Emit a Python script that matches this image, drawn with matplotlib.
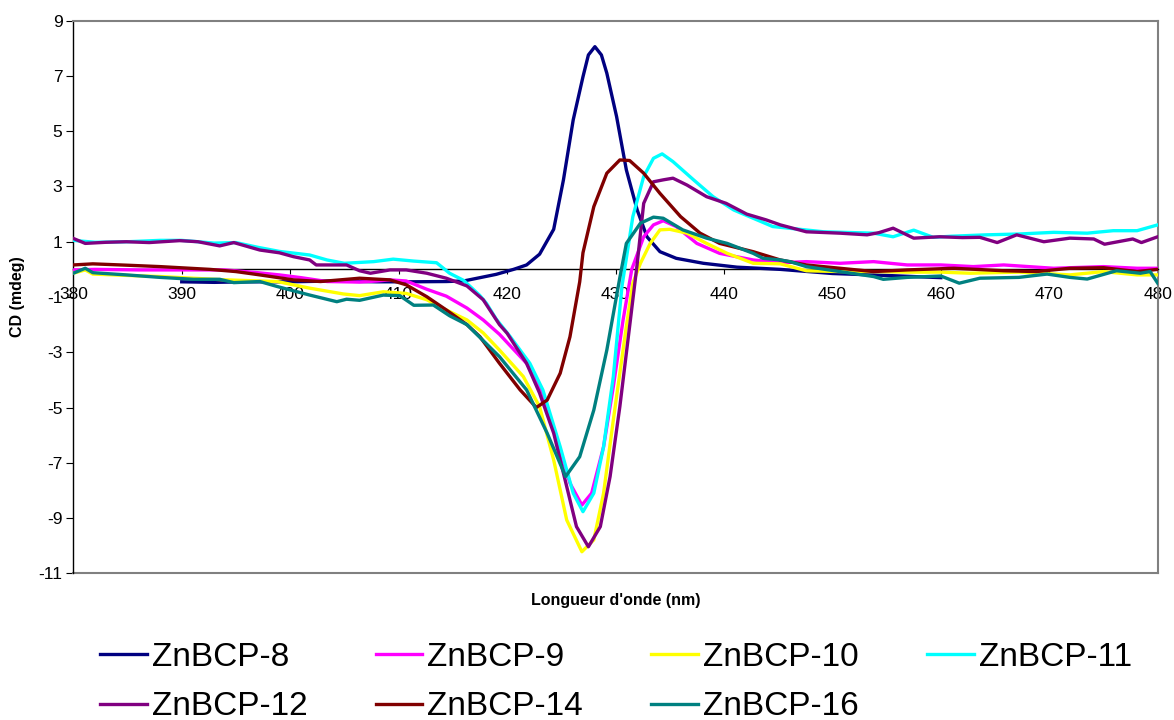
import matplotlib
matplotlib.use("Agg")
import matplotlib.pyplot as plt

# CD spectra (wavelength in nm, CD in mdeg)
x_8 = [390, 393, 396, 400, 404, 408, 411, 414.4, 416, 417.5, 419, 420.6, 421.8, 423.0, 424.3, 425.2,
       426.1, 427.0, 427.5, 428.1, 428.7, 429.2, 430.1, 431.0, 432.0, 432.9, 434.1, 435.6, 438.1,
       441.2, 445.2, 450, 455, 460]
y_8 = [-0.45, -0.47, -0.45, -0.45, -0.42, -0.45, -0.45, -0.44, -0.42, -0.3, -0.18, 0.0, 0.16, 0.55,
       1.45, 3.24, 5.41, 6.97, 7.76, 8.06, 7.76, 7.1, 5.53, 3.6, 2.15, 1.18, 0.64, 0.4, 0.22, 0.08,
       0.0, -0.15, -0.22, -0.3]

x_9 = [380, 382, 386, 390, 394, 397, 399, 401, 403.4, 406.4, 408, 409.2, 410.7, 412.6, 414.4, 416.3,
       417.8, 419.3, 421.8, 423.3, 424.6, 425.8, 426.9, 427.8, 428.9, 429.8, 430.7, 431.5, 432.6,
       433.5, 434.4, 435.6, 437.5, 439.6, 442.7, 445.2, 447.6, 450.7, 453.8, 456.9, 460, 463, 465.8,
       470.4, 475, 478.1, 480]
y_9 = [-0.02, 0.0, -0.02, -0.02, -0.02, -0.12, -0.2, -0.3, -0.44, -0.46, -0.42, -0.38, -0.42, -0.72,
       -0.97, -1.4, -1.83, -2.35, -3.4, -4.48, -6.17, -7.74, -8.53, -8.1, -6.42, -4.24, -1.83, 0.0,
       1.18, 1.61, 1.76, 1.55, 0.94, 0.58, 0.34, 0.24, 0.28, 0.22, 0.28, 0.16, 0.16, 0.1, 0.16, 0.04,
       0.1, 0.04, 0.04]

x_10 = [380, 381.1, 381.8, 385, 388, 391, 394.1, 398.8, 401.8, 404.9, 406.4, 408.6, 410.7, 412.6,
        414.4, 416.3, 417.8, 419.3, 421.5, 423, 424.3, 425.5, 426.9, 428, 428.9, 429.8, 431, 431.6,
        432.3, 433.2, 434.1, 435, 436.6, 438.4, 440.3, 442.7, 445.2, 447.6, 450.7, 453.8, 456.9, 460,
        462.7, 467.2, 471.9, 475, 478.1, 480]
y_10 = [-0.14, -0.02, -0.17, -0.22, -0.26, -0.32, -0.38, -0.44, -0.68, -0.89, -0.95, -0.81, -0.87,
        -1.1, -1.47, -1.83, -2.3, -2.92, -3.88, -4.97, -6.9, -9.07, -10.22, -9.79, -8.1, -5.45, -2.07,
        -0.5, 0.22, 0.94, 1.43, 1.45, 1.31, 0.94, 0.58, 0.22, 0.2, -0.05, -0.08, -0.08, -0.1, -0.1,
        -0.14, -0.1, -0.2, -0.08, -0.2, -0.2]

x_11 = [380, 382, 385, 388, 390, 393, 395, 397, 399, 401.8, 403.4, 405, 407.7, 409.5, 411.4, 413.5,
        414.7, 416, 417.5, 418.1, 419, 420.3, 422.1, 423.3, 424.9, 426.1, 427.0, 428, 428.9, 429.8,
        430.6, 431.0, 431.6, 432.6, 433.5, 434.3, 435.3, 437.2, 439, 440.9, 442.7, 444.5, 449.2,
        453.8, 455.6, 457.5, 459.3, 461, 464.2, 467.2, 470.4, 473.5, 475.9, 478.1, 480]
y_11 = [1.05, 0.98, 1.0, 1.05, 1.05, 0.95, 0.97, 0.8, 0.65, 0.52, 0.34, 0.22, 0.28, 0.37, 0.3, 0.24,
        -0.14, -0.4, -0.95, -1.23, -1.8, -2.44, -3.4, -4.36, -6.42, -8.1, -8.77, -8.1, -6.42, -3.88,
        -0.6, 0.4, 1.91, 3.36, 4.02, 4.18, 3.9, 3.24, 2.63, 2.15, 1.85, 1.55, 1.36, 1.31, 1.18, 1.42,
        1.16, 1.2, 1.25, 1.28, 1.34, 1.31, 1.4, 1.4, 1.61]

x_12 = [380, 381.1, 383, 384.9, 387, 389.8, 391.5, 393.5, 394.8, 397.2, 399, 400.3, 401.8, 402.4,
        405.2, 406.4, 407.4, 409.2, 410.7, 412.6, 414.4, 416.3, 417.8, 419.3, 420, 421.8, 423, 424.3,
        425.5, 426.4, 427.5, 428.6, 429.5, 430.4, 431.3, 432.0, 432.6, 433.5, 434.4, 435.3, 436.6,
        438.4, 440.2, 442.1, 443.9, 445.2, 447.6, 450.7, 453.2, 454.3, 455.6, 457.5, 459.9, 462,
        463.6, 465.2, 467, 469.5, 471.9, 474.1, 475.1, 477.7, 478.5, 480]
y_12 = [1.12, 0.94, 0.98, 1.0, 0.97, 1.04, 1.0, 0.85, 0.97, 0.7, 0.6, 0.46, 0.34, 0.16, 0.16, -0.05,
        -0.14, -0.02, -0.02, -0.14, -0.32, -0.6, -1.1, -2.0, -2.31, -3.4, -4.48, -5.93, -7.86, -9.31,
        -10.04, -9.31, -7.5, -4.97, -2.07, 0.2, 2.39, 3.17, 3.24, 3.3, 3.05, 2.63, 2.39, 2.0, 1.79,
        1.61, 1.36, 1.31, 1.25, 1.33, 1.49, 1.13, 1.18, 1.15, 1.16, 0.97, 1.25, 1.0, 1.13, 1.1, 0.91,
        1.1, 0.97, 1.18]

x_14 = [380, 381.8, 385, 388, 392.6, 395, 397.2, 400.3, 402.8, 404.6, 406.4, 409.2, 410.7, 412.6,
        414.4, 416.3, 417.5, 419.3, 421.2, 422.7, 423.7, 424.9, 425.8, 426.7, 427.0, 428, 429.2,
        430.4, 431.3, 432.6, 434.1, 436.0, 437.8, 439.6, 442.7, 445.2, 447.6, 450.7, 453.8, 456.9,
        461.2, 465.8, 468.8, 471.9, 475, 478.1, 480]
y_14 = [0.16, 0.2, 0.15, 0.1, 0.0, -0.08, -0.2, -0.38, -0.44, -0.38, -0.32, -0.38, -0.56, -0.99,
        -1.47, -2.0, -2.44, -3.4, -4.36, -5.0, -4.73, -3.76, -2.44, -0.45, 0.6, 2.27, 3.48, 3.96,
        3.94, 3.48, 2.75, 1.91, 1.31, 0.94, 0.64, 0.34, 0.16, 0.04, -0.08, -0.02, 0.04, -0.05, -0.08,
        0.04, 0.06, -0.08, 0.0]

x_16 = [380, 381.1, 381.8, 384.9, 388, 391.1, 393.5, 394.8, 397.2, 398.8, 401.8, 404.3, 405.2, 406.4,
        408.6, 410.1, 411.4, 413.2, 414.7, 416.3, 419.3, 421.8, 423.7, 425.4, 426.7, 428, 429.2,
        430.4, 431, 432.3, 433.5, 434.4, 436.2, 438.4, 440.3, 442.7, 443.6, 445.2, 446.1, 447.6,
        450.7, 453.8, 454.7, 456.9, 460, 461.7, 463.6, 467.2, 469.8, 471.9, 473.5, 476.2, 478.4,
        479.3, 480]
y_16 = [-0.14, 0.04, -0.12, -0.2, -0.29, -0.36, -0.36, -0.48, -0.44, -0.62, -0.93, -1.17, -1.08,
        -1.12, -0.93, -0.95, -1.3, -1.29, -1.68, -2.0, -3.16, -4.36, -5.93, -7.5, -6.78, -5.09, -2.92,
        -0.3, 0.94, 1.67, 1.89, 1.85, 1.43, 1.13, 0.94, 0.58, 0.4, 0.34, 0.28, 0.1, -0.08, -0.26,
        -0.36, -0.29, -0.24, -0.5, -0.32, -0.29, -0.17, -0.29, -0.35, -0.05, -0.14, -0.08, -0.5]

labels = ["ZnBCP-8", "ZnBCP-9", "ZnBCP-10", "ZnBCP-11", "ZnBCP-12", "ZnBCP-14", "ZnBCP-16"]
colors = ["#000080", "#FF00FF", "#FFFF00", "#00FFFF", "#800080", "#800000", "#008080"]
xs = [x_8, x_9, x_10, x_11, x_12, x_14, x_16]
ys = [y_8, y_9, y_10, y_11, y_12, y_14, y_16]

x_ticks = [380, 390, 400, 410, 420, 430, 440, 450, 460, 470, 480]
y_ticks = [-11, -9, -7, -5, -3, -1, 1, 3, 5, 7, 9]

plt.rcParams['font.family'] = ['Liberation Sans', 'DejaVu Sans']
plt.rcParams['axes.unicode_minus'] = False   # plain hyphen like the original

fig = plt.figure(figsize=(11.74, 7.2), dpi=100)
W, H = 1174, 720
ax = fig.add_axes([73.3 / W, 1 - 573.3 / H, (1157.7 - 73.3) / W, (573.3 - 20.7) / H])

lines = []
for x, y, c, lab in zip(xs, ys, colors, labels):
    ln, = ax.plot(x, y, color=c, lw=2.4, label=lab, zorder=3, solid_joinstyle='round')
    lines.append(ln)

ax.set_xlim(380, 480)
ax.set_ylim(-11, 9)
ax.set_xticks(x_ticks)
ax.set_yticks(y_ticks)

# Excel style frame: x axis crosses at 0, grey box around the plot area
ax.spines['bottom'].set_position(('data', 0))
ax.spines['bottom'].set_color('black')
ax.spines['bottom'].set_linewidth(1.0)
ax.spines['left'].set_color('black')
ax.spines['left'].set_linewidth(1.0)
for s in ['top', 'right']:
    ax.spines[s].set_color('#808080')
    ax.spines[s].set_linewidth(1.5)
ax.axhline(-11, color='#808080', lw=1.5, clip_on=False, zorder=2)

ax.tick_params(axis='x', direction='out', length=3.6, width=0.8, pad=9, labelsize=12.5)
ax.tick_params(axis='y', direction='out', length=4.8, width=0.8, pad=3, labelsize=12.5)

fig.text(615.5 / W, 1 - 601 / H, "Longueur d'onde (nm)", ha='center', va='center',
         fontsize=11.5, fontweight='bold')
fig.text(18 / W, 1 - 297 / H, "CD (mdeg)", ha='center', va='center', rotation=90,
         fontsize=11.5, fontweight='bold')

# legend is filled row by row in the reference
order = [0, 4, 1, 5, 2, 6, 3]
fig.legend([lines[i] for i in order], [labels[i] for i in order], ncol=4, frameon=False,
           loc='upper left', bbox_to_anchor=(100 / W, 1 - 642 / H), borderaxespad=0, borderpad=0,
           fontsize=24, handlelength=1.4, handletextpad=0.15, columnspacing=2.05,
           labelspacing=0.55)

fig.savefig("out.png", dpi=100)
